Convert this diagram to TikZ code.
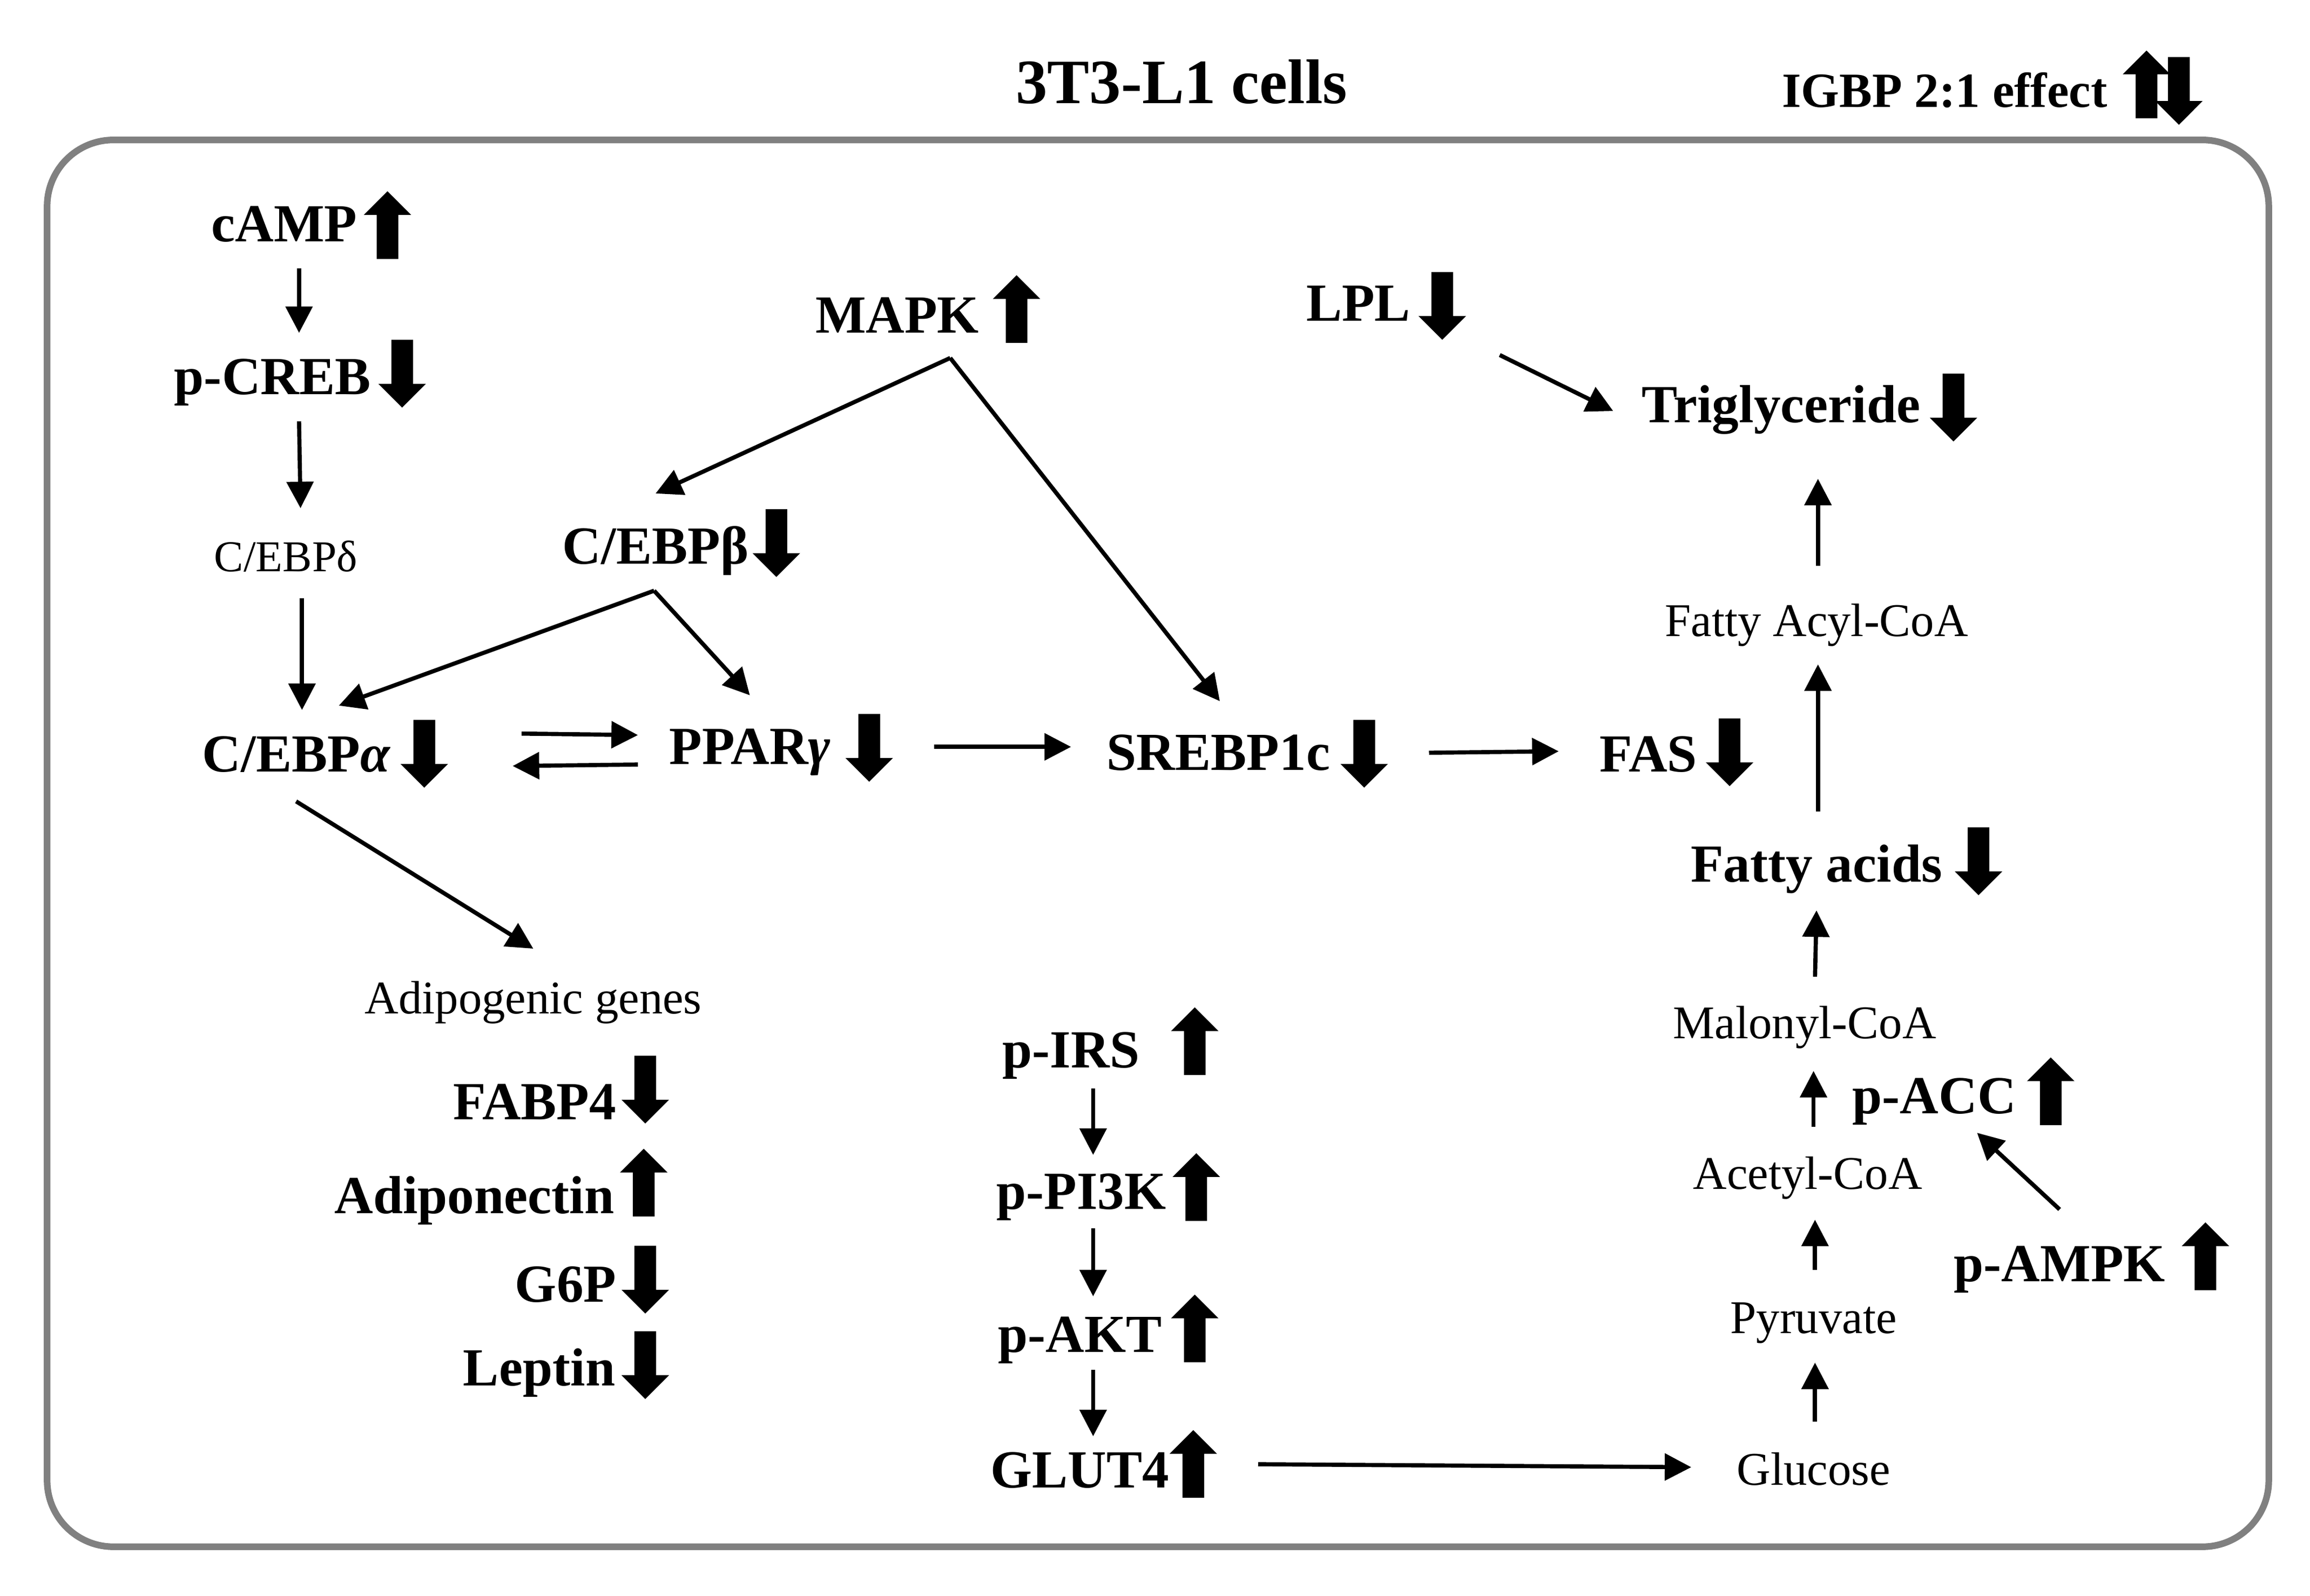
\documentclass[tikz,border=0pt]{standalone}
\usepackage{fontspec}
\setmainfont{Liberation Serif}
\usetikzlibrary{arrows.meta,shapes.arrows}
\tikzset{
  bigtext/.style={inner sep=0pt,text height=13.5pt,text depth=0pt,font=\bfseries\fontsize{20.7}{24}\selectfont},
  thintext/.style={inner sep=0pt,text height=11.5pt,text depth=0pt,font=\fontsize{18.1}{22}\selectfont},
  conn/.style={line width=1.6pt,-{Triangle[length=.36cm,width=.36cm]}},
  frame/.style={draw=black!50,line width=2.55pt,rounded corners=.9cm},
  levelmark/.style={single arrow,fill=black,inner xsep=0pt,inner ysep=.14cm,minimum height=.92cm,minimum width=.63cm,single arrow head extend=.175cm,single arrow head indent=0pt},
  upmark/.style={levelmark,yshift=-.05cm,rotate=90},
  downmark/.style={levelmark,yshift=.06cm,rotate=-90},
}
\begin{document}
\begin{tikzpicture}[x=.02cm,y=-.02cm]
\useasboundingbox (0,0) rectangle (1568,1083.2);
\draw[frame] (32,95) rectangle (1540,1050);
% header
\node[bigtext,text height=16pt,font=\bfseries\fontsize{24.4}{28}\selectfont] (title) at (802,56) {3T3-L1 cells};
\node[bigtext,font=\bfseries\fontsize{19}{22}\selectfont] (legend) at (1320,61) {IGBP 2:1 effect};
\node[upmark] (legendup) at (1457,58.5) {};
\node[downmark] (legenddown) at (1479,61) {};
% left column
\node[bigtext] (camp) at (193,152) {cAMP};
\node[upmark] (campup) at (263,154) {};
\node[bigtext] (pcreb) at (185,256) {p-CREB};
\node[downmark] (pcrebdown) at (273,253) {};
\node[thintext,font=\fontsize{17}{20}\selectfont] (cebpd) at (194,378) {C/EBPδ};
\node[bigtext] (cebpa) at (201,512) {C/EBP{\itshape α}};
\node[downmark] (cebpadown) at (288,511) {};
\node[bigtext] (cebpb) at (445,371) {C/EBPβ};
\node[downmark] (cebpbdown) at (527,368) {};
\node[bigtext] (mapk) at (609,214) {MAPK};
\node[upmark] (mapkup) at (690,211) {};
\node[bigtext] (pparg) at (509,507) {PPAR{\itshape γ}};
\node[downmark] (ppargdown) at (590,507) {};
\node[bigtext] (srebp) at (827,511) {SREBP1c};
\node[downmark] (srebpdown) at (926,511) {};
% adipogenic genes
\node[thintext] (adipo) at (362,678) {Adipogenic genes};
\node[bigtext] (fabp) at (363,748) {FABP4};
\node[downmark] (fabpdown) at (438,739) {};
\node[bigtext] (adipon) at (322,812) {Adiponectin};
\node[upmark] (adiponup) at (437,804) {};
\node[bigtext] (gsixp) at (384,872) {G6P};
\node[downmark] (gsixpdown) at (438,868) {};
\node[bigtext] (leptin) at (366,929) {Leptin};
\node[downmark] (leptindown) at (438,926) {};
% insulin signalling
\node[bigtext] (pirs) at (727,713) {p-IRS};
\node[upmark] (pirsup) at (811,708) {};
\node[bigtext] (ppik) at (734,809) {p-PI3K};
\node[upmark] (ppikup) at (812,807) {};
\node[bigtext] (pakt) at (733,906) {p-AKT};
\node[upmark] (paktup) at (811,903) {};
\node[bigtext] (glut) at (733,998) {GLUT4};
\node[upmark] (glutup) at (810,995) {};
% right column
\node[bigtext] (lpl) at (922,206) {LPL};
\node[downmark] (lpldown) at (979,207) {};
\node[bigtext] (trig) at (1209,275) {Triglyceride};
\node[downmark] (trigdown) at (1326,276) {};
\node[thintext] (acyl) at (1233,422) {Fatty Acyl-CoA};
\node[bigtext] (fas) at (1119,512) {FAS};
\node[downmark] (fasdown) at (1174,510) {};
\node[bigtext] (fatty) at (1233,587) {Fatty acids};
\node[downmark] (fattydown) at (1343,584) {};
\node[thintext] (malonyl) at (1225,695) {Malonyl-CoA};
\node[bigtext] (pacc) at (1313,744) {p-ACC};
\node[upmark] (paccup) at (1392,742) {};
\node[thintext] (acetyl) at (1227,797) {Acetyl-CoA};
\node[bigtext] (pampk) at (1398,858) {p-AMPK};
\node[upmark] (pampkup) at (1497,854) {};
\node[thintext] (pyruvate) at (1231,895) {Pyruvate};
\node[thintext] (glucose) at (1231,998) {Glucose};
% forks
\coordinate (mapkfork) at ([shift={(36,29)}]mapk.center);
\coordinate (cebpbfork) at ([shift={(-1,30)}]cebpb.center);
% connectors
\draw[conn] ([shift={(10,30)}]camp.center) -- ([shift={(18,-30)}]pcreb.center);
\draw[conn] ([shift={(18,30)}]pcreb.center) -- ([shift={(10,-33)}]cebpd.center);
\draw[conn] ([shift={(11,28)}]cebpd.center) -- ([shift={(4,-30)}]cebpa.center);
\draw[conn] (mapkfork) -- ([shift={(0,-36)}]cebpb.center);
\draw[conn] (mapkfork) -- ([shift={(1,-35)}]srebp.center);
\draw[conn] (cebpbfork) -- ([shift={(29,-33)}]cebpa.center);
\draw[conn] (cebpbfork) -- ([shift={(0,-35)}]pparg.center);
\draw[conn] ([shift={(153,-14)}]cebpa.center) -- ([shift={(-76,-8)}]pparg.center);
\draw[conn] ([shift={(-76,12)}]pparg.center) -- ([shift={(147,8)}]cebpa.center);
\draw[conn] ([shift={(125,0)}]pparg.center) -- ([shift={(-100,-4)}]srebp.center);
\draw[conn] ([shift={(143,0)}]srebp.center) -- ([shift={(-61,-2)}]fas.center);
\draw[conn] ([shift={(0,32)}]cebpa.center) -- ([shift={(0,-34)}]adipo.center);
\draw[conn] ([shift={(96,35)}]lpl.center) -- ([shift={(-114,4)}]trig.center);
\draw[conn] ([shift={(1,-38)}]acyl.center) -- ([shift={(25,50)}]trig.center);
\draw[conn] ([shift={(1,-36)}]fatty.center) -- ([shift={(1,29)}]acyl.center);
\draw[conn] ([shift={(7,-32)}]malonyl.center) -- ([shift={(0,31)}]fatty.center);
\draw[conn] ([shift={(4,-32)}]acetyl.center) -- ([shift={(6,32)}]malonyl.center);
\draw[conn] ([shift={(1,-33)}]pyruvate.center) -- ([shift={(5,31)}]acetyl.center);
\draw[conn] ([shift={(1,-33)}]glucose.center) -- ([shift={(1,30)}]pyruvate.center);
\draw[conn] ([shift={(0,-37)}]pampk.center) -- ([shift={(29,25)}]pacc.center);
\draw[conn] ([shift={(121,-4)}]glut.center) -- ([shift={(-83,-2)}]glucose.center);
\draw[conn] ([shift={(15,26)}]pirs.center) -- ([shift={(8,-25)}]ppik.center);
\draw[conn] ([shift={(8,25)}]ppik.center) -- ([shift={(9,-26)}]pakt.center);
\draw[conn] ([shift={(9,24)}]pakt.center) -- ([shift={(9,-23)}]glut.center);
\end{tikzpicture}
\end{document}
